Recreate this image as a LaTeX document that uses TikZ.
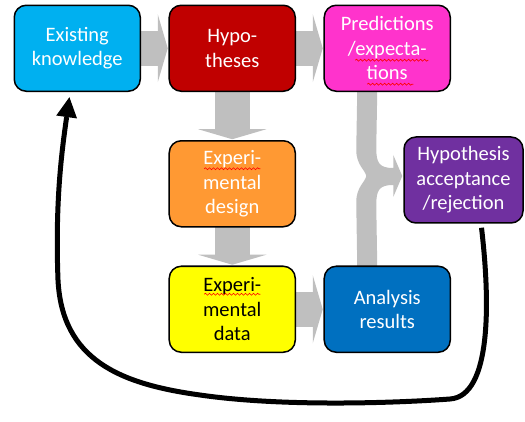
\documentclass[tikz,border=0pt]{standalone}
\usepackage{fontspec}
\setmainfont{Carlito}
\usetikzlibrary{arrows.meta,calc,backgrounds,decorations.pathmorphing}
\definecolor{knowblue}{HTML}{00B0F0}
\definecolor{hypred}{HTML}{C00000}
\definecolor{predpink}{HTML}{FF33CC}
\definecolor{designorange}{HTML}{FF9933}
\definecolor{accpurple}{HTML}{7030A0}
\definecolor{datayellow}{HTML}{FFFF00}
\definecolor{anablue}{HTML}{0070C0}
\definecolor{flowgray}{HTML}{BFBFBF}

\begin{document}
\begin{tikzpicture}[x=1pt,y=-1pt,
box/.style={draw,rectangle,line width=1.5pt,rounded corners=12pt,
    minimum width=126pt,minimum height=86pt,inner sep=0pt,
    align=center,text=white,font=\fontsize{20.5}{24.5}\selectfont},
flowarrow/.style={flowgray,line width=35pt,shorten >=1.5pt,
    -{Triangle[length=10pt,width=68pt,line width=0pt]}},
back/.style={line width=5pt,shorten >=6pt,
    -{Triangle[length=20pt,width=21pt,line width=0pt]}},
spell/.style={red,line width=0.7pt,decorate,
    decoration={snake,amplitude=1pt,segment length=4pt}}]
\useasboundingbox (0,0) rectangle (525,422);
\matrix (flow) [row sep=48pt,column sep=27.5pt,inner sep=0pt,outer sep=0pt,
    anchor=north west] at (13.5,4.5) {
\node (know) [box,fill=knowblue] {Existing\\knowledge};
&
\node (hyp) [box,fill=hypred] {Hypo-\\theses};
&
\node (pred) [box,fill=predpink] {Predictions\\/expecta-\\tions};
\\
&
\node (design) [box,fill=designorange] {Experi-\\mental\\design};
&
\\[-10pt]
&
\node (data) [box,fill=datayellow,text=black] {Experi-\\mental\\data};
&
\node (ana) [box,fill=anablue] {Analysis\\results};
\\
};
\node (acc) [box,fill=accpurple,minimum width=119pt] at (463.5,180) {Hypothesis\\acceptance\\/rejection};

\draw[spell] ([xshift=-32pt,yshift=-55pt]pred.north) -- ++(73,0);
\draw[spell] ([xshift=-20pt,yshift=-79pt]pred.north) -- ++(46,0);
\draw[spell] ([xshift=-28pt,yshift=-28pt]design.north) -- ++(56,0);
\draw[spell] ([xshift=-28pt,yshift=-28pt]data.north) -- ++(56,0);

\begin{scope}[on background layer]
\draw[flowarrow] (know) -- (hyp);
\draw[flowarrow] (hyp) -- (pred);
\draw[flowarrow] (hyp) -- (design);
\draw[flowarrow] (design) -- (data);
\draw[flowarrow] (data) -- (ana);
\begin{scope}[shift={(acc.west)}]
\fill[flowgray] ([xshift=-30pt]pred.south) -- (-47,-30)
    .. controls (-47,-15) and (-38,-10) .. (-37,-4)
    .. controls (-38,2) and (-47,7) .. (-47,22)
    -- ([xshift=-30pt]ana.north) -- ([xshift=-10pt]ana.north) -- (-27,25)
    .. controls (-27,10) and (-24,5) .. (-10,5)
    -- (-10,17) -- (-1,-4) -- (-10,-25) -- (-10,-12)
    .. controls (-24,-12) and (-27,-17) .. (-27,-32)
    -- ([xshift=-10pt]pred.south) -- cycle;
\end{scope}
\end{scope}

\draw[back] ([xshift=18pt,yshift=-4pt]acc.south)
    .. controls (490,300) and (492,396) .. (450,399)
    .. controls (410,402) and (290,408) .. (200,395)
    .. controls (120,384) and (62,360) .. (58,280)
    .. controls (55,200) and (62,150) .. ([xshift=-7pt]know.south);
\end{tikzpicture}
\end{document}
